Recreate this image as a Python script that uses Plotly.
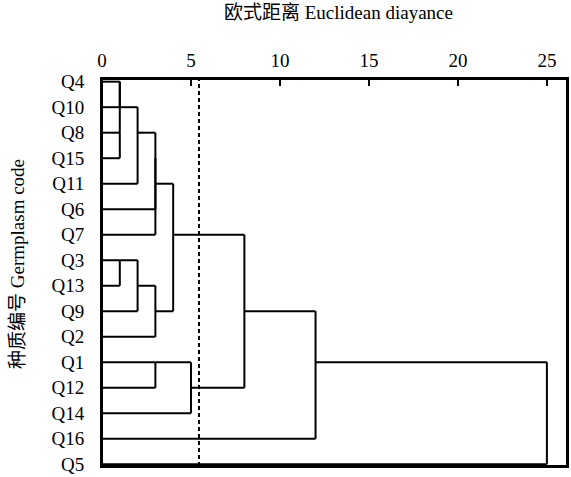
import plotly.graph_objects as go

# ---- data ----
leaves = ["Q4", "Q10", "Q8", "Q15", "Q11", "Q6", "Q7", "Q3", "Q13", "Q9",
          "Q2", "Q1", "Q12", "Q14", "Q16", "Q5"]
# merges: cluster ids (0..15 leaves, 16+ new clusters in order)
merge_a = [0, 2, 7, 16, 19, 18, 20, 22, 21, 11, 23, 25, 26, 28, 29]
merge_b = [1, 3, 8, 17, 4, 9, 5, 6, 10, 12, 24, 13, 27, 14, 15]
merge_dist = [1, 1, 1, 1, 2, 2, 3, 3, 3, 3, 4, 5, 8, 12, 25]
cut_distance = 5.45
x_ticks = [0, 5, 10, 15, 20, 25]
x_title = "欧式距离 Euclidean diayance"
y_title = "种质编号 Germplasm code"

# ---- build SPSS-style dendrogram segments ----
rep = {i: i for i in range(len(leaves))}       # row used by each cluster
start = {i: 0 for i in range(len(leaves))}     # x where its line starts
xs, ys = [], []
nid = len(leaves)
for a, b, d in zip(merge_a, merge_b, merge_dist):
    for c in (a, b):
        xs += [start[c], d, None]
        ys += [rep[c], rep[c], None]
    xs += [d, d, None]
    ys += [rep[a], rep[b], None]
    rep[nid] = (min(rep[a], rep[b]) + max(rep[a], rep[b])) // 2
    start[nid] = d
    nid += 1

FONT = "Liberation Serif, Times New Roman, Noto Sans CJK SC, serif"
Y_RANGE = [15.066, -0.105]

fig = go.Figure()
fig.add_trace(go.Scatter(x=xs, y=ys, mode="lines",
                         line=dict(color="black", width=2),
                         hoverinfo="skip", showlegend=False, cliponaxis=False))
fig.add_trace(go.Scatter(x=[cut_distance, cut_distance], y=Y_RANGE,
                         mode="lines",
                         line=dict(color="black", width=2, dash="4px,3px"),
                         hoverinfo="skip", showlegend=False))

fig.update_layout(
    width=571, height=477,
    margin=dict(l=102, r=2, t=79, b=6),
    plot_bgcolor="white", paper_bgcolor="white",
    font=dict(family=FONT, size=19, color="black"),
    xaxis=dict(side="top", range=[0, 26.13], tickvals=x_ticks,
               ticks="inside", ticklen=7, tickwidth=2, tickcolor="black",
               showline=True, linewidth=2, linecolor="black", mirror=True,
               showgrid=False, zeroline=False, ticklabelstandoff=2,
               ticklabeloverflow="allow",
               tickfont=dict(family=FONT, size=19)),
    yaxis=dict(range=Y_RANGE, tickvals=list(range(len(leaves))),
               ticktext=leaves, ticks="", showline=True, linewidth=2,
               linecolor="black", mirror=True, showgrid=False, zeroline=False,
               ticklabelstandoff=12, ticklabeloverflow="allow",
               tickfont=dict(family=FONT, size=19)),
    shapes=[dict(type="rect", xref="paper", yref="paper", x0=0, x1=1,
                 y0=0, y1=1, line=dict(color="black", width=2),
                 fillcolor="rgba(0,0,0,0)", layer="above")],
    annotations=[
        dict(text=x_title, xref="paper", yref="paper",
             x=(340 - 102) / 467, y=(471 - 12) / 392, xanchor="center",
             yanchor="middle", showarrow=False,
             font=dict(family=FONT, size=19)),
        dict(text=y_title, xref="paper", yref="paper",
             x=(17 - 102) / 467, y=(471 - 266) / 392, xanchor="center",
             yanchor="middle", showarrow=False, textangle=-90,
             font=dict(family=FONT, size=19)),
    ],
)

fig.write_html("out.html",
               config={"displayModeBar": False},
               post_script="document.body.style.margin='0';"
                           "document.body.style.overflow='hidden';")
